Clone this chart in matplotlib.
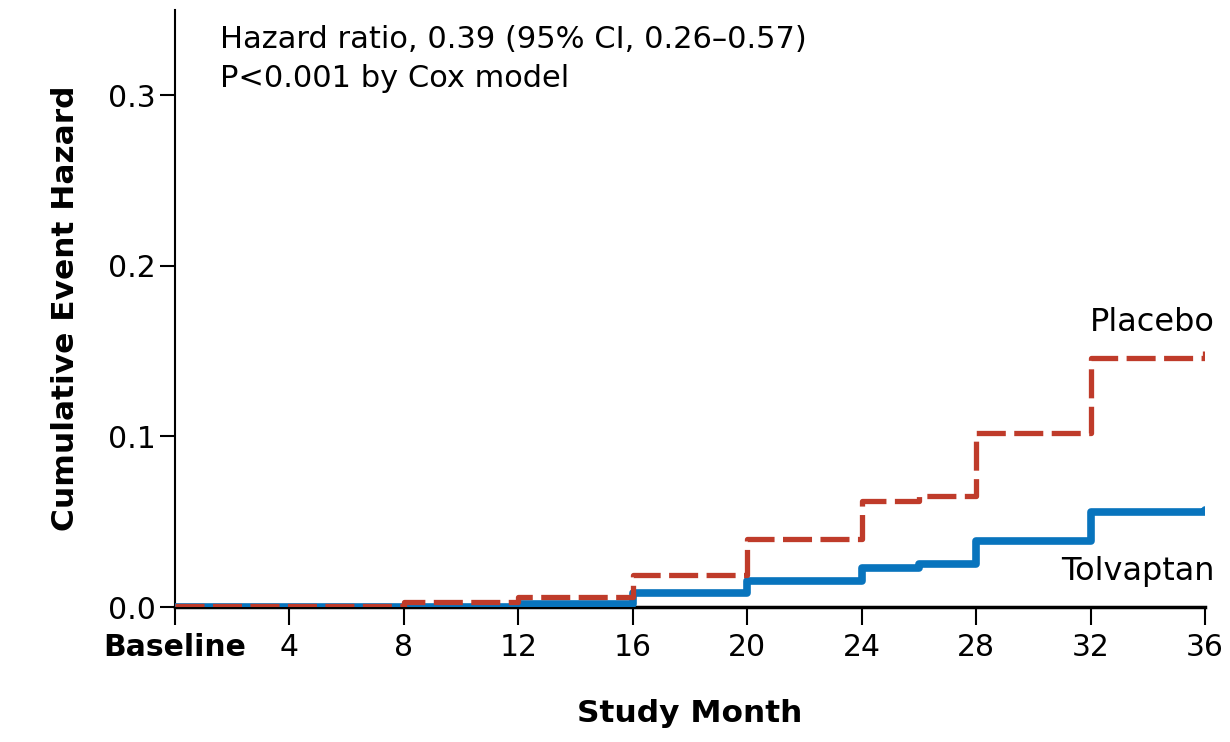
import matplotlib.pyplot as plt

# step data
months_placebo = [0, 8, 12, 16, 20, 24, 26, 28, 32, 36]
hazard_placebo = [0.0005, 0.003, 0.006, 0.019, 0.040, 0.062, 0.065, 0.102, 0.146, 0.150]
months_tolvaptan = [0, 12, 16, 20, 24, 26, 28, 32, 36]
hazard_tolvaptan = [0.0, 0.002, 0.008, 0.015, 0.023, 0.025, 0.039, 0.056, 0.057]

x_ticks = [0, 4, 8, 12, 16, 20, 24, 28, 32, 36]
x_ticklabels = ["Baseline", "4", "8", "12", "16", "20", "24", "28", "32", "36"]
y_ticks = [0.0, 0.1, 0.2, 0.3]

red = "#BF3B2A"
blue = "#0874BD"

plt.rcParams['font.family'] = ['DejaVu Sans']

fig = plt.figure(figsize=(12.3, 7.42), dpi=100)
ax = fig.add_axes([0.1423, 0.1819, 0.8374, 0.8046])

ax.step(months_tolvaptan, hazard_tolvaptan, where="post", color=blue,
        linewidth=5.5, solid_capstyle="round", zorder=3)
ax.step(months_placebo, hazard_placebo, where="post", color=red,
        linewidth=3.8, linestyle=(0, (5.5, 1.6)), zorder=4)

ax.set_xlim(0, 36)
ax.set_ylim(0, 0.35)
ax.set_xticks(x_ticks)
ax.set_xticklabels(x_ticklabels, fontsize=21.5)
ax.get_xticklabels()[0].set_fontweight("bold")
ax.set_yticks(y_ticks)
ax.set_yticklabels([f"{v:.1f}" for v in y_ticks], fontsize=21.5)

for s in ["top", "right"]:
    ax.spines[s].set_visible(False)
ax.spines["left"].set_linewidth(1.5)
ax.spines["bottom"].set_linewidth(2.5)
ax.tick_params(axis="x", direction="out", length=13, width=1.5, pad=6)
ax.tick_params(axis="y", direction="out", length=11, width=1.5, pad=3)

ax.set_xlabel("Study Month", fontsize=22.5, fontweight="bold", labelpad=26)
ax.set_ylabel("Cumulative Event Hazard", fontsize=22.5, fontweight="bold", labelpad=20)

ax.text(0.044, 0.975, "Hazard ratio, 0.39 (95% CI, 0.26\u20130.57)\nP<0.001 by Cox model",
        transform=ax.transAxes, fontsize=22, va="top", ha="left", linespacing=1.42)
ax.text(36.35, 0.167, "Placebo", fontsize=23, ha="right", va="center")
ax.text(36.35, 0.021, "Tolvaptan", fontsize=23, ha="right", va="center")

fig.savefig("out.png", dpi=100)
